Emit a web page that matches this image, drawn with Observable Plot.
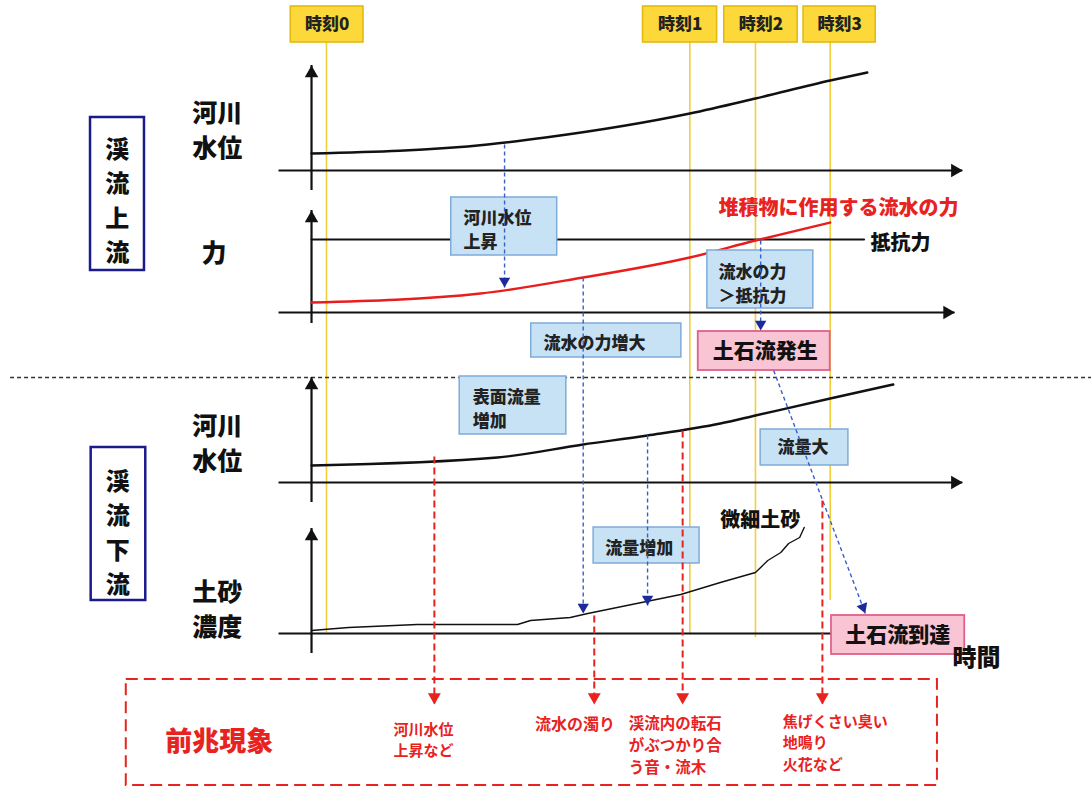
<!DOCTYPE html>
<html><head><meta charset="utf-8">
<script src="https://cdn.jsdelivr.net/npm/d3@7"></script>
<script src="https://cdn.jsdelivr.net/npm/@observablehq/plot@0.6"></script>
<style>
html,body{margin:0;padding:0;background:#fff;}
#chart svg{display:block;}
</style>
</head><body><div id="chart"></div>
<script>
// ---------- scale domains (time units on x, diagram rows on y) ----------
const timeDomain = [-47.85, 120.0];
const rowDomain = [0, 790];

// ---------- moments ----------
const momentNames = ["時刻0", "時刻1", "時刻2", "時刻3"];
const momentTimes = [2.3, 58.2, 68.3, 79.8];
const momentLineEnd = [632, 633, 637, 600];
const momentBoxStart = [-3.2, 51.0, 63.5, 75.7];
const momentBoxEnd = [8.0, 62.4, 74.8, 86.8];

// ---------- panels ----------
const panelBase = [170, 312, 482, 633];
const panelAxisTop = [65, 210, 377, 528];
const panelAxisBottom = [190, 323, 502, 653];
const panelAxisEnd = [100.2, 99.0, 100.2, 80.2];
const panelHasArrow = [true, true, true, false];

// ---------- series (time, level above the panel baseline) ----------
const upperLevelT = [0, 27.1, 36.0, 58.2, 68.3, 79.8, 85.5];
const upperLevelV = [17, 26, 33, 57, 72, 90, 98];
const forceT = [0, 26.0, 41.8, 58.2, 68.3, 79.8];
const forceV = [10, 19, 35, 55, 72, 90];
const resistT = [0, 85.0];
const resistV = [73, 73];
const lowerLevelT = [0, 28.6, 41.8, 51.7, 62.9, 68.3, 79.8, 89.5];
const lowerLevelV = [17, 25, 38, 47, 59, 67, 84, 98];
const sedimentT = [0, 5.7, 16.3, 31.7, 33.7, 39.8, 42.5, 56.8, 62.9, 68.3, 70.2, 72.2, 73.4, 75.1, 75.8];
const sedimentV = [3, 6, 9, 9, 13, 16, 20, 39, 51, 61, 73, 81, 90, 96, 106];

// ---------- annotation boxes ----------
const blueBoxes = [
  {label: "河川水位\n上昇", t1: 21.5, t2: 37.8, r1: 197, r2: 255, tx: 23.4, ty: 228, anchor: "start"},
  {label: "流水の力\n＞抵抗力", t1: 60.9, t2: 77.2, r1: 250, r2: 308, tx: 62.6, ty: 282, anchor: "start"},
  {label: "流水の力増大", t1: 33.8, t2: 56.9, r1: 323, r2: 357, tx: 35.7, ty: 341, anchor: "start"},
  {label: "表面流量\n増加", t1: 22.8, t2: 39.2, r1: 376, r2: 434, tx: 24.8, ty: 407, anchor: "start"},
  {label: "流量大", t1: 69.1, t2: 82.6, r1: 429, r2: 465, tx: 75.6, ty: 447, anchor: "middle"},
  {label: "流量増加", t1: 43.4, t2: 59.7, r1: 527, r2: 563, tx: 45.2, ty: 546, anchor: "start"}
];
const pinkBoxes = [
  {label: "土石流発生", t1: 59.5, t2: 79.8, r1: 331, r2: 370, tx: 69.8, ty: 351},
  {label: "土石流到達", t1: 80.0, t2: 100.5, r1: 615, r2: 654, tx: 90.2, ty: 635}
];
const sideBoxes = [
  {label: "渓\n流\n上\n流", t1: -34.0, t2: -25.7, r1: 117, r2: 270, tx: -29.9, ty: 198},
  {label: "渓\n流\n下\n流", t1: -33.9, t2: -25.5, r1: 447, r2: 600, tx: -29.8, ty: 530}
];
const sideLabels = [
  {label: "河川\n水位", t: -14.5, r: 128},
  {label: "力", t: -15.0, r: 250},
  {label: "河川\n水位", t: -14.5, r: 441},
  {label: "土砂\n濃度", t: -14.5, r: 607}
];

// ---------- arrows ----------
const blueArrows = [
  {t1: 29.7, r1: 144, t2: 29.7, r2: 287},
  {t1: 41.8, r1: 277, t2: 41.8, r2: 613},
  {t1: 51.7, r1: 435, t2: 51.7, r2: 605},
  {t1: 69.1, r1: 240, t2: 69.1, r2: 330}
];
const blueDiagonal = {t1: 71.1, r1: 370, t2: 85.2, r2: 613};
const redArrows = [
  {t1: 18.9, r1: 456, t2: 18.9, r2: 703},
  {t1: 43.5, r1: 615, t2: 43.5, r2: 703},
  {t1: 57.1, r1: 430, t2: 57.1, r2: 703},
  {t1: 78.6, r1: 500, t2: 78.6, r2: 703}
];
const precursorBox = {t1: -28.5, t2: 96.3, r1: 679, r2: 785};
const separator = {t1: -46.3, t2: 120, r: 377};

const redLabels = [
  {label: "河川水位\n上昇など", t: 12.6, r: 738, size: 15},
  {label: "流水の濁り", t: 34.4, r: 722, size: 16},
  {label: "渓流内の転石\nがぶつかり合\nう音・流木", t: 48.8, r: 743, size: 15.5},
  {label: "焦げくさい臭い\n地鳴り\n火花など", t: 72.5, r: 741, size: 15}
];
const blackLabels = [
  {label: "抵抗力", t: 86.0, r: 243, size: 20},
  {label: "微細土砂", t: 62.9, r: 520, size: 20},
  {label: "時間", t: 98.6, r: 658, size: 24}
];

// ---------- build tables ----------
const zip = (ts, vs, base) => ts.map((t, i) => ({t, r: base - vs[i]}));
const upperLine = zip(upperLevelT, upperLevelV, panelBase[0]);
const forceLine = zip(forceT, forceV, panelBase[1]);
const resistLine = zip(resistT, resistV, panelBase[1]);
const lowerLine = zip(lowerLevelT, lowerLevelV, panelBase[2]);
const sedimentLine = zip(sedimentT, sedimentV, panelBase[3]);
const moments = momentNames.map((name, i) => ({name, t: momentTimes[i], end: momentLineEnd[i], b1: momentBoxStart[i], b2: momentBoxEnd[i]}));
const panels = panelBase.map((base, i) => ({base, top: panelAxisTop[i], bottom: panelAxisBottom[i], end: panelAxisEnd[i], arrow: panelHasArrow[i]}));

const W = 1091, H = 790;
const pxPerT = W / (timeDomain[1] - timeDomain[0]);
const diagDx = (blueDiagonal.t2 - blueDiagonal.t1) * pxPerT;
const diagDy = blueDiagonal.r2 - blueDiagonal.r1;
const diagAngle = Math.atan2(diagDx, -diagDy) * 180 / Math.PI;
const diagLen = Math.hypot(diagDx, diagDy);
const headR = 4.2;
const headTip = 2 * Math.sqrt(Math.PI * headR * headR / (Math.sqrt(3) * 3));
const axisR = 5;
const axisTip = 2 * Math.sqrt(Math.PI * axisR * axisR / (Math.sqrt(3) * 3));

const FONT = "'Noto Sans CJK JP', 'Noto Sans', sans-serif";
const BLUE_FILL = "#c8e2f5", BLUE_STROKE = "#7fabd8";
const PINK_FILL = "#f9c4d4", PINK_STROKE = "#e0608a";
const YEL_FILL = "#fcd83a", YEL_STROKE = "#e3b60a", YEL_LINE = "#f2cf3a";
const RED = "#e8231f", BLUE_DASH = "#3a5fc8", NAVY = "#1c2a9c";

const chart = Plot.plot({
  width: W, height: H, margin: 0,
  x: {domain: timeDomain, range: [0, W], axis: null},
  y: {domain: rowDomain, range: [0, H], axis: null},
  style: {fontFamily: FONT, background: "#fff"},
  marks: [
    // moment lines
    Plot.ruleX(moments, {x: "t", y1: 42, y2: "end", stroke: YEL_LINE, strokeWidth: 1.6}),
    // separator
    Plot.ruleY([separator], {y: "r", x1: "t1", x2: "t2", stroke: "#333", strokeWidth: 1.3, strokeDasharray: "4,3"}),
    // side boxes
    Plot.rect(sideBoxes, {x1: "t1", x2: "t2", y1: "r1", y2: "r2", fill: "#fff", stroke: "#1a1a8c", strokeWidth: 2.5}),
    Plot.text(sideBoxes, {x: "tx", y: "ty", text: "label", fontSize: 24, fontWeight: 900, lineHeight: 1.43, fill: "#111"}),
    Plot.text(sideLabels, {x: "t", y: "r", text: "label", fontSize: 25, fontWeight: 900, lineHeight: 1.4, fill: "#111"}),
    // axes
    Plot.ruleY(panels, {y: "base", x1: -5, x2: "end", stroke: "#111", strokeWidth: 2.2}),
    Plot.ruleX(panels, {x: 0, y1: "top", y2: "bottom", stroke: "#111", strokeWidth: 2.2}),
    Plot.dot(panels, {x: 0, y: "top", symbol: "triangle", r: axisR, fill: "#111", stroke: "none", dy: axisTip}),
    Plot.dot(panels.filter(d => d.arrow), {x: "end", y: "base", symbol: "triangle", r: axisR, fill: "#111", stroke: "none", rotate: 90, dx: -axisTip}),
    // resistance line and curves
    Plot.line(resistLine, {x: "t", y: "r", stroke: "#111", strokeWidth: 2.2}),
    Plot.line(upperLine, {x: "t", y: "r", stroke: "#111", strokeWidth: 2.4, curve: "monotone-x"}),
    Plot.line(forceLine, {x: "t", y: "r", stroke: "#e81e1e", strokeWidth: 2.4, curve: "monotone-x"}),
    Plot.line(lowerLine, {x: "t", y: "r", stroke: "#111", strokeWidth: 2.4, curve: "monotone-x"}),
    Plot.line(sedimentLine, {x: "t", y: "r", stroke: "#111", strokeWidth: 1.4}),
    // blue boxes
    Plot.rect(blueBoxes, {x1: "t1", x2: "t2", y1: "r1", y2: "r2", fill: BLUE_FILL, stroke: BLUE_STROKE, strokeWidth: 1.5}),
    Plot.text(blueBoxes.filter(d => d.anchor === "start"), {x: "tx", y: "ty", text: "label", textAnchor: "start", fontSize: 17, fontWeight: 900, lineHeight: 1.38, fill: "#222"}),
    Plot.text(blueBoxes.filter(d => d.anchor === "middle"), {x: "tx", y: "ty", text: "label", fontSize: 17, fontWeight: 900, fill: "#222"}),
    // pink boxes
    Plot.rect(pinkBoxes, {x1: "t1", x2: "t2", y1: "r1", y2: "r2", fill: PINK_FILL, stroke: PINK_STROKE, strokeWidth: 1.8}),
    Plot.text(pinkBoxes, {x: "tx", y: "ty", text: "label", fontSize: 21, fontWeight: 900, fill: "#111"}),
    // blue dashed arrows
    Plot.link(blueArrows, {x1: "t1", y1: "r1", x2: "t2", y2: "r2", stroke: BLUE_DASH, strokeWidth: 1.4, strokeDasharray: "4,3"}),
    Plot.dot(blueArrows, {x: "t2", y: "r2", symbol: "triangle", r: headR, fill: NAVY, stroke: "none", rotate: 180, dy: -headTip}),
    Plot.link([blueDiagonal], {x1: "t1", y1: "r1", x2: "t2", y2: "r2", stroke: BLUE_DASH, strokeWidth: 1.4, strokeDasharray: "4,3"}),
    Plot.dot([blueDiagonal], {x: "t2", y: "r2", symbol: "triangle", r: headR, fill: NAVY, stroke: "none", rotate: diagAngle,
      dx: -headTip * diagDx / diagLen, dy: -headTip * diagDy / diagLen}),
    // red dashed arrows
    Plot.link(redArrows, {x1: "t1", y1: "r1", x2: "t2", y2: "r2", stroke: RED, strokeWidth: 2, strokeDasharray: "7,4"}),
    Plot.dot(redArrows, {x: "t2", y: "r2", symbol: "triangle", r: headR + 0.6, fill: RED, stroke: "none", rotate: 180, dy: -headTip}),
    // precursor box
    Plot.rect([precursorBox], {x1: "t1", x2: "t2", y1: "r1", y2: "r2", fill: "none", stroke: RED, strokeWidth: 2, strokeDasharray: "12,6"}),
    Plot.text(["前兆現象"], {x: -22.5, y: 742, text: d => d, textAnchor: "start", fontSize: 27, fontWeight: 900, fill: RED}),
    Plot.text(redLabels, {x: "t", y: "r", text: "label", textAnchor: "start", fontSize: "size", fontWeight: "bold", lineHeight: 1.42, fill: RED}),
    // other labels
    Plot.text(["堆積物に作用する流水の力"], {x: 62.6, y: 208, text: d => d, textAnchor: "start", fontSize: 20, fontWeight: 900, fill: RED}),
    Plot.text(blackLabels, {x: "t", y: "r", text: "label", textAnchor: "start", fontSize: "size", fontWeight: 900, fill: "#111"}),
    // moment boxes on top
    Plot.rect(moments, {x1: "b1", x2: "b2", y1: 6, y2: 42, fill: YEL_FILL, stroke: YEL_STROKE, strokeWidth: 1.5}),
    Plot.text(moments, {x: d => (d.b1 + d.b2) / 2, y: 24, text: "name", fontSize: 17, fontWeight: 900, fill: "#222"})
  ]
});
document.getElementById("chart").appendChild(chart);
</script>
</body></html>
